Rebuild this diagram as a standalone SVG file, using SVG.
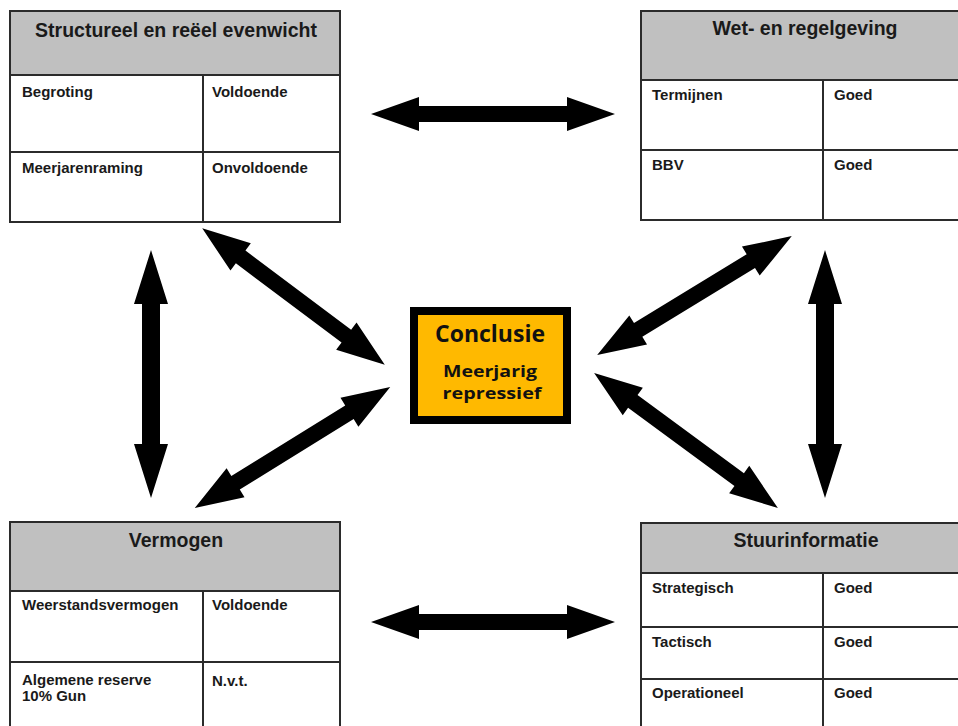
<svg xmlns="http://www.w3.org/2000/svg" width="958" height="726" viewBox="0 0 958 726">
<style>
.tbl{fill:#ffffff;stroke:#2b2b2b;stroke-width:2}
.hdr{fill:#c0c0c0;stroke:#2b2b2b;stroke-width:2}
.ln{stroke:#2b2b2b;stroke-width:2;fill:none}
.ht{font-family:"Liberation Sans",Arial,sans-serif;font-weight:bold;font-size:19.5px;fill:#1a1a1a;text-anchor:middle}
.ct{font-family:"Liberation Sans",Arial,sans-serif;font-weight:bold;font-size:15px;fill:#1a1a1a}
.arr{fill:#000000}
</style>
<rect x="0" y="0" width="958" height="726" fill="#ffffff"/>
<g id="connectors">
<path class="arr" transform="translate(493,114)" d="M-122 0 L-74 -17 L-74 -8 L74 -8 L74 -17 L122 0 L74 17 L74 8 L-74 8 L-74 17Z"/>
<path class="arr" transform="translate(493,622)" d="M-122 0 L-74 -17 L-74 -8 L74 -8 L74 -17 L122 0 L74 17 L74 8 L-74 8 L-74 17Z"/>
<path class="arr" transform="translate(151,374) rotate(90)" d="M-124 0 L-70 -17 L-70 -9 L70 -9 L70 -17 L124 0 L70 17 L70 9 L-70 9 L-70 17Z"/>
<path class="arr" transform="translate(825,374) rotate(90)" d="M-124 0 L-70 -17 L-70 -9 L70 -9 L70 -17 L124 0 L70 17 L70 9 L-70 9 L-70 17Z"/>
<path class="arr" transform="translate(293.5,296.5) rotate(36.8)" d="M-114 0 L-66 -17 L-66 -8 L66 -8 L66 -17 L114 0 L66 17 L66 8 L-66 8 L-66 17Z"/>
<path class="arr" transform="translate(292.5,447.5) rotate(-31.8)" d="M-115 0 L-67 -17 L-67 -8 L67 -8 L67 -17 L115 0 L67 17 L67 8 L-67 8 L-67 17Z"/>
<path class="arr" transform="translate(694.5,295.5) rotate(-31.4)" d="M-114 0 L-66 -17 L-66 -8 L66 -8 L66 -17 L114 0 L66 17 L66 8 L-66 8 L-66 17Z"/>
<path class="arr" transform="translate(686,440.5) rotate(36.3)" d="M-114 0 L-66 -17 L-66 -8 L66 -8 L66 -17 L114 0 L66 17 L66 8 L-66 8 L-66 17Z"/>
</g>
<g id="structureel">
<rect class="tbl" x="10" y="11" width="330" height="211"/>
<rect class="hdr" x="10" y="11" width="330" height="64"/>
<line class="ln" x1="10" y1="152" x2="340" y2="152"/>
<line class="ln" x1="203" y1="75" x2="203" y2="222"/>
<text class="ht" x="176" y="37">Structureel en reëel evenwicht</text>
<text class="ct" x="22" y="97">Begroting</text>
<text class="ct" x="212" y="97">Voldoende</text>
<text class="ct" x="22" y="173">Meerjarenraming</text>
<text class="ct" x="212" y="173">Onvoldoende</text>
</g>
<g id="wetgeving">
<rect class="tbl" x="641" y="11" width="327" height="209"/>
<rect class="hdr" x="641" y="11" width="327" height="69"/>
<line class="ln" x1="641" y1="150" x2="968" y2="150"/>
<line class="ln" x1="823" y1="80" x2="823" y2="220"/>
<text class="ht" x="805" y="35">Wet- en regelgeving</text>
<text class="ct" x="652" y="100">Termijnen</text>
<text class="ct" x="834" y="100">Goed</text>
<text class="ct" x="652" y="170">BBV</text>
<text class="ct" x="834" y="170">Goed</text>
</g>
<g id="vermogen">
<rect class="tbl" x="10" y="522" width="330" height="230"/>
<rect class="hdr" x="10" y="522" width="330" height="69"/>
<line class="ln" x1="10" y1="662" x2="340" y2="662"/>
<line class="ln" x1="203" y1="591" x2="203" y2="752"/>
<text class="ht" x="176" y="547">Vermogen</text>
<text class="ct" x="22" y="610">Weerstandsvermogen</text>
<text class="ct" x="212" y="610">Voldoende</text>
<text class="ct" x="22" y="685" font-size="13.5">Algemene  reserve</text>
<text class="ct" x="22" y="701" font-size="13.5">10% Gun</text>
<text class="ct" x="212" y="686">N.v.t.</text>
</g>
<g id="stuurinformatie">
<rect class="tbl" x="641" y="523" width="327" height="230"/>
<rect class="hdr" x="641" y="523" width="327" height="50"/>
<line class="ln" x1="641" y1="627" x2="968" y2="627"/>
<line class="ln" x1="641" y1="679" x2="968" y2="679"/>
<line class="ln" x1="823" y1="573" x2="823" y2="753"/>
<text class="ht" x="806" y="547">Stuurinformatie</text>
<text class="ct" x="652" y="593">Strategisch</text>
<text class="ct" x="834" y="593">Goed</text>
<text class="ct" x="652" y="647">Tactisch</text>
<text class="ct" x="834" y="647">Goed</text>
<text class="ct" x="652" y="698">Operationeel</text>
<text class="ct" x="834" y="698">Goed</text>
</g>
<g id="conclusie">
<rect x="414" y="311" width="153" height="109" fill="#ffb900" stroke="#000000" stroke-width="8"/>
<text x="490" y="342" font-family="'Open Sans','Noto Sans',sans-serif" font-weight="bold" font-size="24" fill="#111" text-anchor="middle" textLength="110" lengthAdjust="spacingAndGlyphs">Conclusie</text>
<text x="490" y="377" font-family="'Open Sans','Noto Sans',sans-serif" font-weight="bold" font-size="16" fill="#111" text-anchor="middle" textLength="94" lengthAdjust="spacingAndGlyphs">Meerjarig</text>
<text x="492" y="399" font-family="'Open Sans','Noto Sans',sans-serif" font-weight="bold" font-size="16" fill="#111" text-anchor="middle" textLength="99" lengthAdjust="spacingAndGlyphs">repressief</text>
</g>
</svg>
